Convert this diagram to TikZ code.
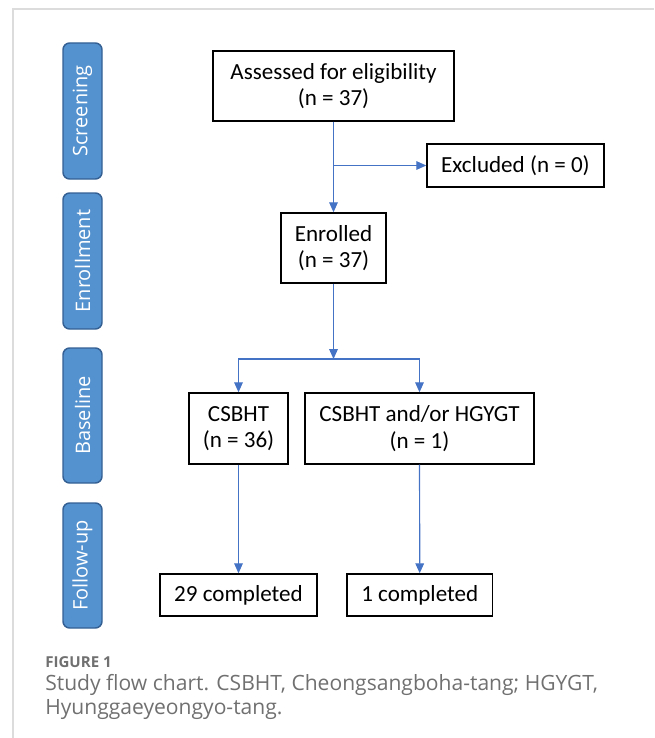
\documentclass[tikz,border=0pt]{standalone}
\usepackage{fontspec}
\setmainfont{Carlito}
\newfontfamily\stagefont{Open Sans}
\newfontfamily\capfont{Open Sans}
\usepackage{tikz}
\usetikzlibrary{arrows.meta}
\definecolor{tabblue}{RGB}{84,146,207}
\definecolor{tabedge}{RGB}{52,96,148}
\definecolor{linkblue}{RGB}{68,114,196}
\definecolor{capgray}{RGB}{112,112,112}
\definecolor{framegray}{RGB}{220,220,220}

\begin{document}
\begin{tikzpicture}[x=0.75pt,y=-0.75pt,
	box/.style={draw=black, line width=1.1pt, align=center, inner sep=0pt, font=\fontsize{17.3}{20}\selectfont},
	stage/.style={draw=tabedge, fill=tabblue, line width=1.1pt, rounded corners=5pt, rotate=90, minimum height=29.25pt, inner sep=0pt, text=white, font=\stagefont\fontsize{15}{17}\selectfont},
	link/.style={draw=linkblue, line width=0.9pt, -{Triangle[length=7.5pt,width=6.5pt]}},
	caption/.style={anchor=base west, inner sep=0pt, text=capgray}]
	\useasboundingbox (0,0) rectangle (654,738);
	\draw[framegray, line width=1.1pt] (13,738) -- (13,9) -- (654,9);
	% stage tabs
	\node[stage, minimum width=102pt] (screen) at (82.5,111) {Screening};
	\node[stage, minimum width=102pt] (enrolment) at (82.5,261) {Enrollment};
	\node[stage, minimum width=101.25pt] (base) at (82.5,415.5) {Baseline};
	\node[stage, minimum width=93.75pt] (follow) at (82.5,565.5) {Follow-up};
	% flow boxes
	\node[box, minimum width=180.75pt, minimum height=52.5pt] (assess) at (333.5,86) {Assessed for eligibility\\(n = 37)};
	\node[box, minimum width=132.75pt, minimum height=32.25pt] (excl) at (515.5,165.5) {Excluded (n = 0)};
	\node[box, minimum width=78.75pt, minimum height=52.5pt] (enrol) at (333.5,248) {Enrolled\\(n = 37)};
	\node[box, minimum width=74.25pt, minimum height=53.25pt] (csbht) at (238.5,428.5) {CSBHT\\(n = 36)};
	\node[box, minimum width=171.75pt, minimum height=53.25pt] (both) at (419.5,428.5) {CSBHT and/or HGYGT\\(n = 1)};
	\node[box, minimum width=117.75pt, minimum height=31.5pt] (done29) at (238.5,595) {29 completed};
	\node[box, minimum width=109.1pt, minimum height=31.5pt] (done1) at (419.75,595) {1 completed};
	% connectors
	\coordinate (exclfork) at (333.5,165.5);
	\coordinate (split) at (333.5,359);
	\draw[link] (assess) -- (enrol);
	\draw[link] (exclfork) -- (excl);
	\draw[link] (enrol) -- (split);
	\draw[link] (split) -| (csbht);
	\draw[link] (split) -| (both);
	\draw[link] (csbht) -- (done29);
	\draw[link] (both) -- (done1);
	% caption
	\node[caption, font=\capfont\bfseries\fontsize{11.3}{13}\selectfont] (figlabel) at (45,667) {FIGURE 1};
	\node[caption, font=\capfont\fontsize{15.8}{18}\selectfont] (capline1) at (45,690) {Study flow chart. CSBHT, Cheongsangboha-tang; HGYGT,};
	\node[caption, font=\capfont\fontsize{15.8}{18}\selectfont] (capline2) at (45,714) {Hyunggaeyeongyo-tang.};
\end{tikzpicture}
\end{document}
